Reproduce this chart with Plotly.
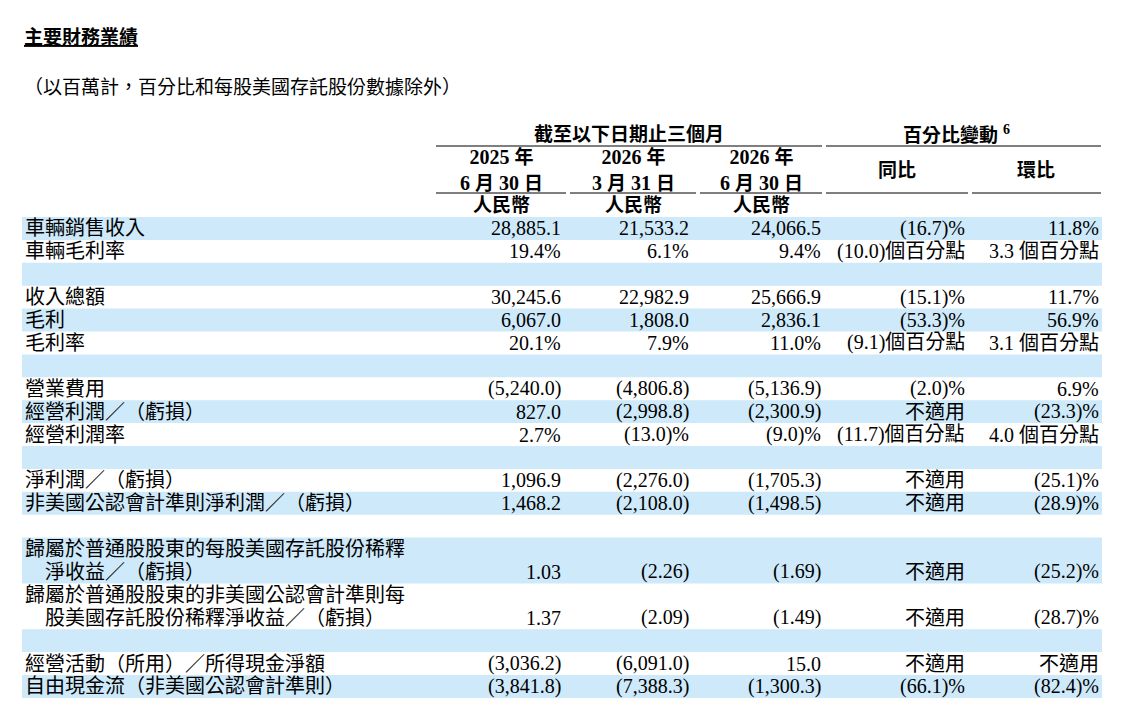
import re
import plotly.graph_objects as go

labels = ["車輛銷售收入", "車輛毛利率", "", "收入總額", "毛利", "毛利率", "",
          "營業費用", "經營利潤／（虧損）", "經營利潤率", "",
          "淨利潤／（虧損）", "非美國公認會計準則淨利潤／（虧損）", "",
          "歸屬於普通股股東的每股美國存託股份稀釋\n　淨收益／（虧損）",
          "歸屬於普通股股東的非美國公認會計準則每\n　股美國存託股份稀釋淨收益／（虧損）", "",
          "經營活動（所用）／所得現金淨額", "自由現金流（非美國公認會計準則）"]
row_lines = [1, 1, 1, 1, 1, 1, 1, 1, 1, 1, 1, 1, 1, 1, 2, 2, 1, 1, 1]
shaded = [1, 0, 1, 0, 1, 0, 1, 0, 1, 0, 1, 0, 1, 0, 1, 0, 1, 0, 1]
q2_2025 = ["28,885.1", "19.4%", "", "30,245.6", "6,067.0", "20.1%", "", "(5,240.0)", "827.0", "2.7%", "",
           "1,096.9", "1,468.2", "", "1.03", "1.37", "", "(3,036.2)", "(3,841.8)"]
q1_2026 = ["21,533.2", "6.1%", "", "22,982.9", "1,808.0", "7.9%", "", "(4,806.8)", "(2,998.8)", "(13.0)%", "",
           "(2,276.0)", "(2,108.0)", "", "(2.26)", "(2.09)", "", "(6,091.0)", "(7,388.3)"]
q2_2026 = ["24,066.5", "9.4%", "", "25,666.9", "2,836.1", "11.0%", "", "(5,136.9)", "(2,300.9)", "(9.0)%", "",
           "(1,705.3)", "(1,498.5)", "", "(1.69)", "(1.49)", "", "15.0", "(1,300.3)"]
yoy = ["(16.7)%", "(10.0)個百分點", "", "(15.1)%", "(53.3)%", "(9.1)個百分點", "", "(2.0)%", "不適用",
       "(11.7)個百分點", "", "不適用", "不適用", "", "不適用", "不適用", "", "不適用", "(66.1)%"]
qoq = ["11.8%", "3.3 個百分點", "", "11.7%", "56.9%", "3.1 個百分點", "", "6.9%", "(23.3)%",
       "4.0 個百分點", "", "(25.1)%", "(28.9)%", "", "(25.2)%", "(28.7)%", "", "不適用", "(82.4)%"]
year_headers = ["2025 年<br>6 月 30 日", "2026 年<br>3 月 31 日", "2026 年<br>6 月 30 日"]
change_headers = ["同比", "環比"]

FONT = "Liberation Serif, Noto Sans CJK TC"
BLUE = "#cde9fa"
fig = go.Figure()
fig.add_trace(go.Scatter(x=[0], y=[0], mode="markers", marker=dict(opacity=0), hoverinfo="skip", showlegend=False))
shapes, ann = [], []
CJK = re.compile(r"([\u3000-\u9fff\uff00-\uffef]+)")

def text(x, y, s, anchor="left", size=20, bold=False, color="black", cjk=20):
    s = CJK.sub(lambda m: '<span style="font-size:%dpx">%s</span>' % (cjk, m.group(1)), s)
    if bold:
        s = "<b>" + s + "</b>"
    ann.append(dict(x=x, y=y, xref="x", yref="y", text=s, showarrow=False, xanchor=anchor,
                    yanchor="middle", font=dict(family=FONT, size=size, color=color)))

text(22, 37, "<u>主要財務業績</u>", bold=True, cjk=19)
text(22, 87, "（以百萬計，百分比和每股美國存託股份數據除外）", cjk=19)
text(629, 134, "截至以下日期止三個月", "center", bold=True, cjk=19)
text(956, 134, "百分比變動 <sup>6</sup>", "center", bold=True, cjk=19)
for x0, x1 in [(436, 822), (826, 1101), (436, 566), (570, 696), (700, 822), (826, 968), (972, 1101)]:
    y = 146 if (x0, x1) in [(436, 822), (826, 1101)] else 193
    shapes.append(dict(type="line", xref="x", yref="y", x0=x0, x1=x1, y0=y, y1=y, line=dict(color="black", width=1.2)))
col_right = [563, 691, 823, 967, 1101]
col_center = [501, 633, 761, 897, 1036]
for i, h in enumerate(year_headers):
    text(col_center[i], 170, h, "center", bold=True, size=20, cjk=19)
    text(col_center[i], 205, "人民幣", "center", bold=True, cjk=19)
for i, h in enumerate(change_headers):
    text(col_center[3 + i], 170, h, "center", bold=True, cjk=19)

RH = 22.9
y = 217.0
cols = [q2_2025, q1_2026, q2_2026, yoy, qoq]
for r, lab in enumerate(labels):
    h = RH * row_lines[r]
    if shaded[r]:
        shapes.append(dict(type="rect", xref="x", yref="y", x0=22, x1=1102, y0=y, y1=y + h,
                           fillcolor=BLUE, line=dict(width=0), layer="below"))
    lines = lab.split("\n")
    for k, ln in enumerate(lines):
        text(23, y + RH * (k + 0.5), ln, cjk=20.5)
    vy = y + h - RH / 2
    for c, col in enumerate(cols):
        if col[r]:
            text(col_right[c], vy, col[r], "right")
    y += h

fig.update_layout(width=1142, height=720, margin=dict(l=0, r=0, t=0, b=0),
                  paper_bgcolor="white", plot_bgcolor="white", shapes=shapes, annotations=ann,
                  xaxis=dict(range=[0, 1142], visible=False, fixedrange=True),
                  yaxis=dict(range=[720, 0], visible=False, fixedrange=True))
fig.write_html("out.html", config={"displayModeBar": False},
               post_script="document.body.style.margin='0';document.body.style.overflow='hidden';")
